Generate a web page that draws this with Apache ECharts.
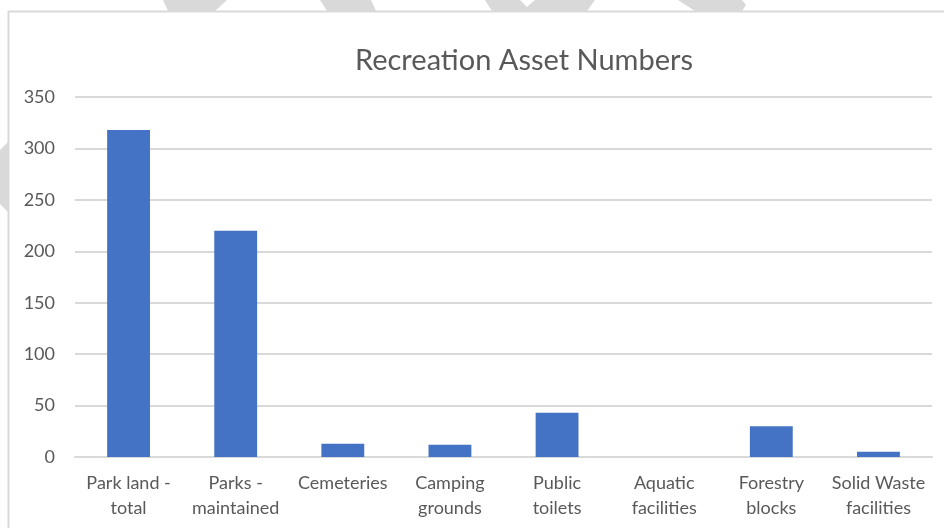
<!DOCTYPE html>
<html>
<head>
<meta charset="utf-8">
<script src="https://cdn.jsdelivr.net/npm/echarts@6/dist/echarts.min.js"></script>
<style>
  html, body { margin: 0; padding: 0; background: #ffffff; }
  #chart { width: 944px; height: 528px; }
</style>
</head>
<body>
<div id="chart"></div>
<script>
// Recreation asset counts by category
const categories = [
  'Park land -\ntotal',
  'Parks -\nmaintained',
  'Cemeteries',
  'Camping\ngrounds',
  'Public\ntoilets',
  'Aquatic\nfacilities',
  'Forestry\nblocks',
  'Solid Waste\nfacilities'
];
const assetCounts = [318, 220, 13, 12, 43, 0, 30, 5];
const yTicks = { min: 0, max: 350, interval: 50 };

const FONT = 'Lato, "Open Sans", sans-serif';
const TEXT = '#595959';
const LINE = '#d9d9d9';

// faint grey stripes peeking out around the chart frame
const stripes = [
  [[163, 0], [227, 0], [215, 11], [168, 11]],
  [[320, 0], [371, 0], [376, 11], [327, 11]],
  [[485, 0], [520, 0], [527, 7], [535, 0], [595, 0], [587, 11], [492, 11]],
  [[678, 0], [742, 0], [746, 5], [742, 11], [695, 11]],
  [[0, 150], [8, 142], [8, 212], [0, 204]]
];

const chart = echarts.init(document.getElementById('chart'), null, { renderer: 'canvas' });

chart.setOption({
  backgroundColor: '#ffffff',
  animation: false,
  graphic: [
    ...stripes.map(pts => ({
      type: 'polygon',
      z: -20,
      silent: true,
      shape: { points: pts },
      style: { fill: LINE }
    })),
    {
      type: 'rect',
      z: -10,
      silent: true,
      shape: { x: 8.5, y: 11.5, width: 960, height: 540 },
      style: { fill: '#ffffff', stroke: LINE, lineWidth: 2 }
    }
  ],
  title: {
    text: 'Recreation Asset Numbers',
    left: 519,
    top: 41,
    textAlign: 'center',
    textStyle: {
      fontFamily: FONT,
      fontSize: 29,
      fontWeight: 'normal',
      color: TEXT
    }
  },
  grid: {
    left: 75,
    right: 12,
    top: 97,
    bottom: 71,
    containLabel: false,
    outerBoundsMode: 'none'
  },
  xAxis: {
    type: 'category',
    data: categories,
    axisLine: { show: true, lineStyle: { color: LINE, width: 2 } },
    axisTick: { show: false },
    axisLabel: {
      interval: 0,
      margin: 14,
      fontFamily: FONT,
      fontSize: 18,
      color: TEXT,
      lineHeight: 25
    }
  },
  yAxis: {
    type: 'value',
    min: yTicks.min,
    max: yTicks.max,
    interval: yTicks.interval,
    axisLine: { show: false },
    axisTick: { show: false },
    splitLine: { lineStyle: { color: LINE, width: 2 } },
    axisLabel: {
      margin: 20,
      fontFamily: FONT,
      fontSize: 18,
      color: TEXT
    }
  },
  series: [{
    type: 'bar',
    data: assetCounts,
    barWidth: '40%',
    itemStyle: { color: '#4472C4' }
  }]
});
</script>
</body>
</html>
